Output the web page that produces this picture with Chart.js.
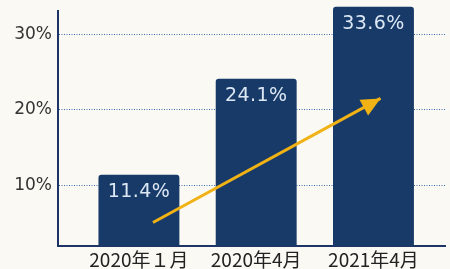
<!DOCTYPE html>
<html>
<head>
<meta charset="utf-8">
<script src="https://cdn.jsdelivr.net/npm/chart.js@4"></script>
<style>
  body { margin: 0; background: #faf9f3; }
  #wrap { width: 450px; height: 269px; position: relative; }
</style>
</head>
<body>
<div id="wrap"><canvas id="rateChart"></canvas></div>
<script>
const categories = ['2020年１月', '2020年4月', '2021年4月'];
const rates = [11.4, 24.1, 33.6];
const yTicks = [10, 20, 30];
// trend arrow, in data units (x = category index, y = percent)
const arrowX = [0.12, 2.06];
const arrowY = [5.1, 21.5];

const navy = '#173a68';
const gold = '#f0b214';

const barLabels = {
  id: 'barLabels',
  afterDatasetsDraw(chart) {
    const ctx = chart.ctx;
    const meta = chart.getDatasetMeta(0);
    ctx.save();
    ctx.font = '19px "DejaVu Sans"';
    ctx.letterSpacing = '0.4px';
    ctx.fillStyle = '#dce7f4';
    ctx.textAlign = 'center';
    ctx.textBaseline = 'middle';
    meta.data.forEach((bar, i) => {
      ctx.fillText(rates[i].toFixed(1) + '%', bar.x, bar.y + 17);
    });
    // arrow head
    const pts = chart.getDatasetMeta(1).data;
    const a = pts[0], b = pts[pts.length - 1];
    const ang = Math.atan2(b.y - a.y, b.x - a.x);
    const len = 19, half = 9;
    ctx.fillStyle = gold;
    ctx.beginPath();
    ctx.moveTo(b.x, b.y);
    ctx.lineTo(b.x - len * Math.cos(ang) - half * Math.sin(ang), b.y - len * Math.sin(ang) + half * Math.cos(ang));
    ctx.lineTo(b.x - len * Math.cos(ang) + half * Math.sin(ang), b.y - len * Math.sin(ang) - half * Math.cos(ang));
    ctx.closePath();
    ctx.fill();
    ctx.restore();
  }
};

function setupChart() {
  let ctx = document.getElementById('rateChart');
  new Chart(ctx, {
    type: 'bar',
    data: {
      datasets: [{
        type: 'bar',
        data: rates.map((v, i) => ({ x: i, y: v })),
        backgroundColor: navy,
        borderRadius: 3,
        borderSkipped: 'bottom',
        barPercentage: 0.69,
        categoryPercentage: 1,
        clip: { left: false, top: false, right: false, bottom: 0 },
        order: 1
      }, {
        type: 'line',
        data: arrowX.map((x, i) => ({ x: x, y: arrowY[i] })),
        borderColor: gold,
        borderWidth: 3,
        pointRadius: 0,
        clip: false,
        order: 0
      }]
    },
    options: {
      responsive: true,
      maintainAspectRatio: false,
      animation: { duration: 0 },
      layout: { padding: { top: 11.4, right: 5, left: 0, bottom: 0 } },
      plugins: { legend: { display: false }, tooltip: { enabled: false } },
      scales: {
        x: {
          type: 'linear',
          offset: false,
          min: -0.69,
          max: 2.61,
          afterBuildTicks: (axis) => { axis.ticks = categories.map((c, i) => ({ value: i })); },
          afterFit: (scale) => { scale.height = 23; },
          grid: { display: false, drawTicks: false },
          border: { display: true, color: '#1f3466', width: 2 },
          ticks: {
            autoSkip: false,
            maxRotation: 0,
            padding: 2,
            color: '#222',
            font: { family: '"Noto Sans CJK JP"', size: 19 },
            callback: (v) => categories[v]
          }
        },
        y: {
          min: 2,
          max: 33,
          afterBuildTicks: (axis) => { axis.ticks = yTicks.map(v => ({ value: v })); },
          afterFit: (scale) => { scale.width = 58; scale.paddingTop = 0; scale.paddingBottom = 0; },
          grid: { color: '#3f6fb2', lineWidth: 1, drawTicks: false },
          border: { display: true, color: '#1f3466', width: 2, dash: [1, 1.5] },
          ticks: {
            padding: 6,
            color: '#333',
            font: { family: '"DejaVu Sans"', size: 17 },
            callback: (v) => v + '%'
          }
        }
      }
    },
    plugins: [barLabels]
  });
}

setupChart();
</script>
</body>
</html>
